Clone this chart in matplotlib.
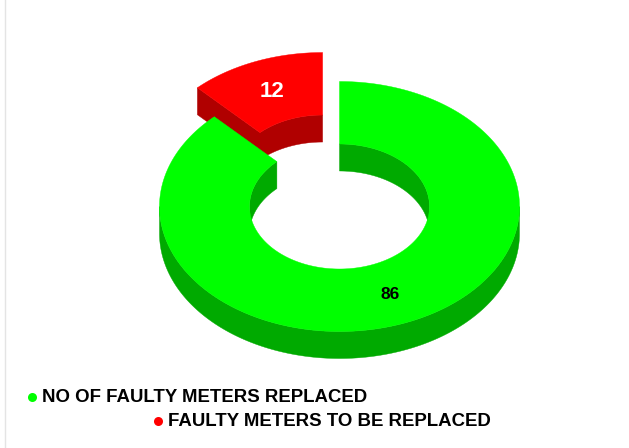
import numpy as np
import matplotlib
matplotlib.use('Agg')
import matplotlib.pyplot as plt
from matplotlib.patches import Polygon

plt.rcParams['font.family'] = ['Liberation Sans', 'DejaVu Sans']

labels = ['NO OF FAULTY METERS REPLACED', 'FAULTY METERS TO BE REPLACED']
values = [86, 12]
top_colors = ['#00ff00', '#ff0000']
side_colors = ['#00aa00', '#b00000']
explode = [0, 0.25]
label_colors = ['black', 'white']
label_sizes = [12.5, 16]
legend_marker_x = [31.5, 158]
legend_y = [397, 421]

# ring geometry in pixels
cx, cy = 339.5, 206.5
rx, ry = 180, 125
hole = 0.5
depth = 27


def arc(a0, a1, r, dx=0, dy=0, drop=0):
    # angles in degrees, clockwise from 12 o'clock
    t = np.radians(np.linspace(a0, a1, max(int(abs(a1 - a0)) * 2, 2)))
    return np.column_stack([cx + dx + r * rx * np.sin(t),
                            cy + dy + drop - r * ry * np.cos(t)])


def add_poly(ax, pts, color, z):
    ax.add_patch(Polygon(pts, closed=True, facecolor=color, edgecolor=color,
                         linewidth=0.3, zorder=z))


fig = plt.figure(figsize=(6.29, 4.48), dpi=100)
ax = fig.add_axes([0, 0, 1, 1])
ax.set_xlim(0, 629)
ax.set_ylim(448, 0)
ax.axis('off')

# chart frame, only the left side shows
ax.axvline(4.5, color='#e4e4e4', linewidth=1)

angles = np.cumsum([0] + values) / sum(values) * 360

# red is further back so it gets drawn first
for i in [1, 0]:
    a0, a1 = angles[i], angles[i + 1]
    mid = np.radians((a0 + a1) / 2)
    dx = explode[i] * rx * np.sin(mid)
    dy = -explode[i] * ry * np.cos(mid)
    z = 2 if i == 1 else 5

    # outer wall, only the front half faces us
    f0, f1 = max(a0, 90), min(a1, 270)
    if f1 > f0:
        add_poly(ax, np.vstack([arc(f0, f1, 1, dx, dy),
                                arc(f1, f0, 1, dx, dy, depth)]),
                 side_colors[i], z)

    # inner wall, only the back half of the hole
    for b0, b1 in [(a0, min(a1, 90)), (max(a0, 270), a1)]:
        if b1 > b0:
            add_poly(ax, np.vstack([arc(b0, b1, hole, dx, dy),
                                    arc(b1, b0, hole, dx, dy, depth)]),
                     side_colors[i], z)

    # cut face on the left end of the exploded slice
    if i == 1:
        add_poly(ax, np.vstack([arc(a0, a0, 1, dx, dy)[:1],
                                arc(a0, a0, hole, dx, dy)[:1],
                                arc(a0, a0, hole, dx, dy, depth)[:1],
                                arc(a0, a0, 1, dx, dy, depth)[:1]]),
                 side_colors[i], z)

    add_poly(ax, np.vstack([arc(a0, a1, 1, dx, dy), arc(a1, a0, hole, dx, dy)]),
             top_colors[i], z + 1)

    ax.text(cx + dx + 0.75 * rx * np.sin(mid),
            cy + dy - 0.75 * ry * np.cos(mid) + 1,
            str(values[i]), color=label_colors[i], fontsize=label_sizes[i],
            fontweight='bold', ha='center', va='center', zorder=10)

for i in range(2):
    ax.plot(legend_marker_x[i], legend_y[i], 'o', color=top_colors[i],
            markersize=6.5, markeredgewidth=0)
    ax.text(legend_marker_x[i] + 10.5, legend_y[i] + 0.7, labels[i], color='black',
            fontsize=13.4, fontweight='bold', ha='left', va='center')

fig.savefig('out.png', dpi=100)
